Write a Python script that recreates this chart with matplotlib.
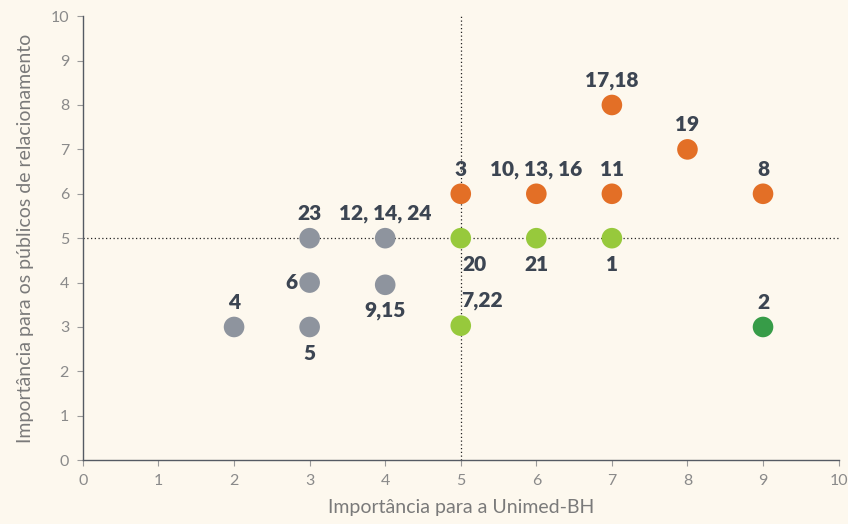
import matplotlib
matplotlib.use("Agg")
import matplotlib.pyplot as plt

labels = ["4", "5", "6", "23", "12, 14, 24", "9,15", "3", "20", "7,22",
          "10, 13, 16", "21", "11", "1", "17,18", "19", "8", "2"]
x_vals = [2, 3, 3, 3, 4, 4, 5, 5, 5, 6, 6, 7, 7, 7, 8, 9, 9]
y_vals = [3, 3, 4, 5, 5, 3.95, 6, 5, 3.03, 6, 5, 6, 5, 8, 7, 6, 3]
groups = ["gray", "gray", "gray", "gray", "gray", "gray", "orange", "lime", "lime",
          "orange", "lime", "orange", "lime", "orange", "orange", "orange", "green"]
label_pos = ["above", "below", "left", "above", "above", "below", "above", "belowright", "aboveright",
             "above", "below", "above", "below", "above", "above", "above", "above"]

colors = {"gray": "#8e949e", "orange": "#e36f26", "lime": "#97c93c", "green": "#379c48"}
offsets = {"above": (0, 11, "center", "bottom"),
           "below": (0, -12, "center", "top"),
           "left": (-9, 0, "right", "center"),
           "belowright": (1, -12, "left", "top"),
           "aboveright": (0, 11, "left", "bottom")}

bg = "#fdf8ee"
fig = plt.figure(figsize=(8.48, 5.24), dpi=100, facecolor=bg)
ax = fig.add_axes([0.0978, 0.1218, 0.8911, 0.8473], facecolor=bg)

ax.axvline(5, color="#222222", linestyle=(0, (1, 2)), linewidth=0.9, zorder=1)
ax.axhline(5, color="#222222", linestyle=(0, (1, 2)), linewidth=0.9, zorder=1)

for x, y, g, lab, pos in zip(x_vals, y_vals, groups, labels, label_pos):
    ax.scatter([x], [y], s=220, color=colors[g], edgecolors="none", zorder=3)
    dx, dy, ha, va = offsets[pos]
    ax.annotate(lab, (x, y), xytext=(dx, dy), textcoords="offset points",
                ha=ha, va=va, fontsize=15, fontweight="heavy", color="#3c4552",
                family=["Lato", "DejaVu Sans"], zorder=4)

ax.set_xlim(0, 10)
ax.set_ylim(0, 10)
ax.set_xticks(range(0, 11))
ax.set_yticks(range(0, 11))
for s in ["top", "right"]:
    ax.spines[s].set_visible(False)
for s in ["left", "bottom"]:
    ax.spines[s].set_color("#555a63")
    ax.spines[s].set_linewidth(1.0)
ax.tick_params(colors="#9a9a9a", labelcolor="#8a8a8a", labelsize=11.5, length=4, width=0.8, pad=6)
for t in ax.get_xticklabels() + ax.get_yticklabels():
    t.set_family(["Lato", "DejaVu Sans"])
ax.set_xlabel("Importância para a Unimed-BH", fontsize=14, color="#7a7a7a",
              family=["Lato", "DejaVu Sans"], labelpad=8)
ax.set_ylabel("Importância para os públicos de relacionamento", fontsize=14, color="#7a7a7a",
              family=["Lato", "DejaVu Sans"], labelpad=12)

fig.savefig("out.png", dpi=100, facecolor=bg)
